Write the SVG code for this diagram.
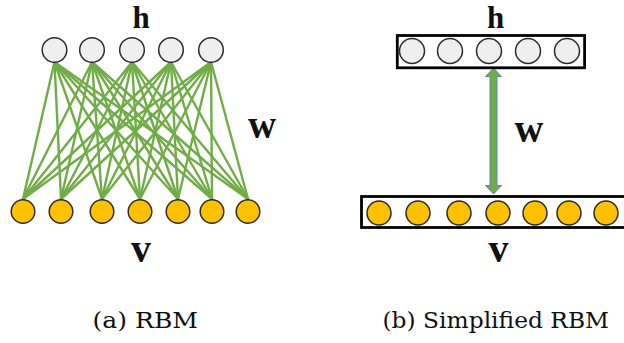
<svg xmlns="http://www.w3.org/2000/svg" width="624" height="343" viewBox="0 0 624 343">
<style>
.hid{fill:#EFEFEF;stroke:#2b2b2b;stroke-width:1.5}
.vis{fill:#FFC000;stroke:#2b2b2b;stroke-width:1.5}
.edge{stroke:#70AD47;stroke-width:2.4;stroke-linecap:round}
.box{fill:none;stroke:#000;stroke-width:2.8}
.sym{font-family:Liberation Serif, DejaVu Serif, serif;font-weight:bold;fill:#111;text-anchor:middle}
.cap{font-family:DejaVu Serif, Liberation Serif, serif;font-size:22.5px;fill:#111}
</style>
<rect width="624" height="343" fill="#fff"/>
<g id="connectors">
<line class="edge" x1="54.5" y1="62" x2="23" y2="199"/><line class="edge" x1="54.5" y1="62" x2="61" y2="199"/><line class="edge" x1="54.5" y1="62" x2="102" y2="199"/><line class="edge" x1="54.5" y1="62" x2="140" y2="199"/><line class="edge" x1="54.5" y1="62" x2="178" y2="199"/><line class="edge" x1="54.5" y1="62" x2="212" y2="199"/><line class="edge" x1="54.5" y1="62" x2="248" y2="199"/>
<line class="edge" x1="92" y1="62" x2="23" y2="199"/><line class="edge" x1="92" y1="62" x2="61" y2="199"/><line class="edge" x1="92" y1="62" x2="102" y2="199"/><line class="edge" x1="92" y1="62" x2="140" y2="199"/><line class="edge" x1="92" y1="62" x2="178" y2="199"/><line class="edge" x1="92" y1="62" x2="212" y2="199"/><line class="edge" x1="92" y1="62" x2="248" y2="199"/>
<line class="edge" x1="132" y1="62" x2="23" y2="199"/><line class="edge" x1="132" y1="62" x2="61" y2="199"/><line class="edge" x1="132" y1="62" x2="102" y2="199"/><line class="edge" x1="132" y1="62" x2="140" y2="199"/><line class="edge" x1="132" y1="62" x2="178" y2="199"/><line class="edge" x1="132" y1="62" x2="212" y2="199"/><line class="edge" x1="132" y1="62" x2="248" y2="199"/>
<line class="edge" x1="171" y1="62" x2="23" y2="199"/><line class="edge" x1="171" y1="62" x2="61" y2="199"/><line class="edge" x1="171" y1="62" x2="102" y2="199"/><line class="edge" x1="171" y1="62" x2="140" y2="199"/><line class="edge" x1="171" y1="62" x2="178" y2="199"/><line class="edge" x1="171" y1="62" x2="212" y2="199"/><line class="edge" x1="171" y1="62" x2="248" y2="199"/>
<line class="edge" x1="211" y1="62" x2="23" y2="199"/><line class="edge" x1="211" y1="62" x2="61" y2="199"/><line class="edge" x1="211" y1="62" x2="102" y2="199"/><line class="edge" x1="211" y1="62" x2="140" y2="199"/><line class="edge" x1="211" y1="62" x2="178" y2="199"/><line class="edge" x1="211" y1="62" x2="212" y2="199"/><line class="edge" x1="211" y1="62" x2="248" y2="199"/>
<polygon points="493.5,68 501.5,76.5 497,76.5 497,185.5 501.5,185.5 493.5,194 485.5,185.5 490,185.5 490,76.5 485.5,76.5" fill="#70AD47" stroke="#5A87B5" stroke-width="1"/>
</g>
<g id="rbm-hidden">
<circle class="hid" cx="54.5" cy="50" r="12.3"/><circle class="hid" cx="92" cy="50" r="12.3"/><circle class="hid" cx="132" cy="50" r="12.3"/><circle class="hid" cx="171" cy="50" r="12.3"/><circle class="hid" cx="211" cy="50" r="12.3"/>
<text class="sym" x="141" y="27.5" font-size="31">h</text>
</g>
<g id="rbm-visible">
<circle class="vis" cx="23" cy="211.5" r="11.8"/><circle class="vis" cx="61" cy="211.5" r="11.8"/><circle class="vis" cx="102" cy="211.5" r="11.8"/><circle class="vis" cx="140" cy="211.5" r="11.8"/><circle class="vis" cx="178" cy="211.5" r="11.8"/><circle class="vis" cx="212" cy="211.5" r="11.8"/><circle class="vis" cx="248" cy="211.5" r="11.8"/>
<text class="sym" x="141" y="262" font-size="40">v</text>
</g>
<g id="rbm-weight"><text class="sym" x="262" y="138" font-size="39">w</text></g>
<g id="srbm-hidden">
<rect class="box" x="397.3" y="35.5" width="187.3" height="32.3"/>
<circle class="hid" cx="412" cy="51" r="12.5"/><circle class="hid" cx="450" cy="51" r="12.5"/><circle class="hid" cx="489" cy="51" r="12.5"/><circle class="hid" cx="528" cy="51" r="12.5"/><circle class="hid" cx="567" cy="51" r="12.5"/>
<text class="sym" x="495.5" y="27.5" font-size="31">h</text>
</g>
<g id="srbm-visible">
<rect class="box" x="361.5" y="196.5" width="270" height="31"/>
<circle class="vis" cx="379" cy="213" r="12"/><circle class="vis" cx="418" cy="213" r="12"/><circle class="vis" cx="459" cy="213" r="12"/><circle class="vis" cx="498" cy="213" r="12"/><circle class="vis" cx="535" cy="213" r="12"/><circle class="vis" cx="569" cy="213" r="12"/><circle class="vis" cx="606" cy="213" r="12"/>
<text class="sym" x="498.5" y="262" font-size="40">v</text>
</g>
<g id="srbm-weight"><text class="sym" x="529" y="142" font-size="40">w</text></g>
<g id="captions">
<text class="cap" x="92.5" y="327.5" textLength="105.5" lengthAdjust="spacingAndGlyphs">(a) RBM</text>
<text class="cap" x="382.5" y="327.5" textLength="226.5" lengthAdjust="spacingAndGlyphs">(b) Simplified RBM</text>
</g>
</svg>
